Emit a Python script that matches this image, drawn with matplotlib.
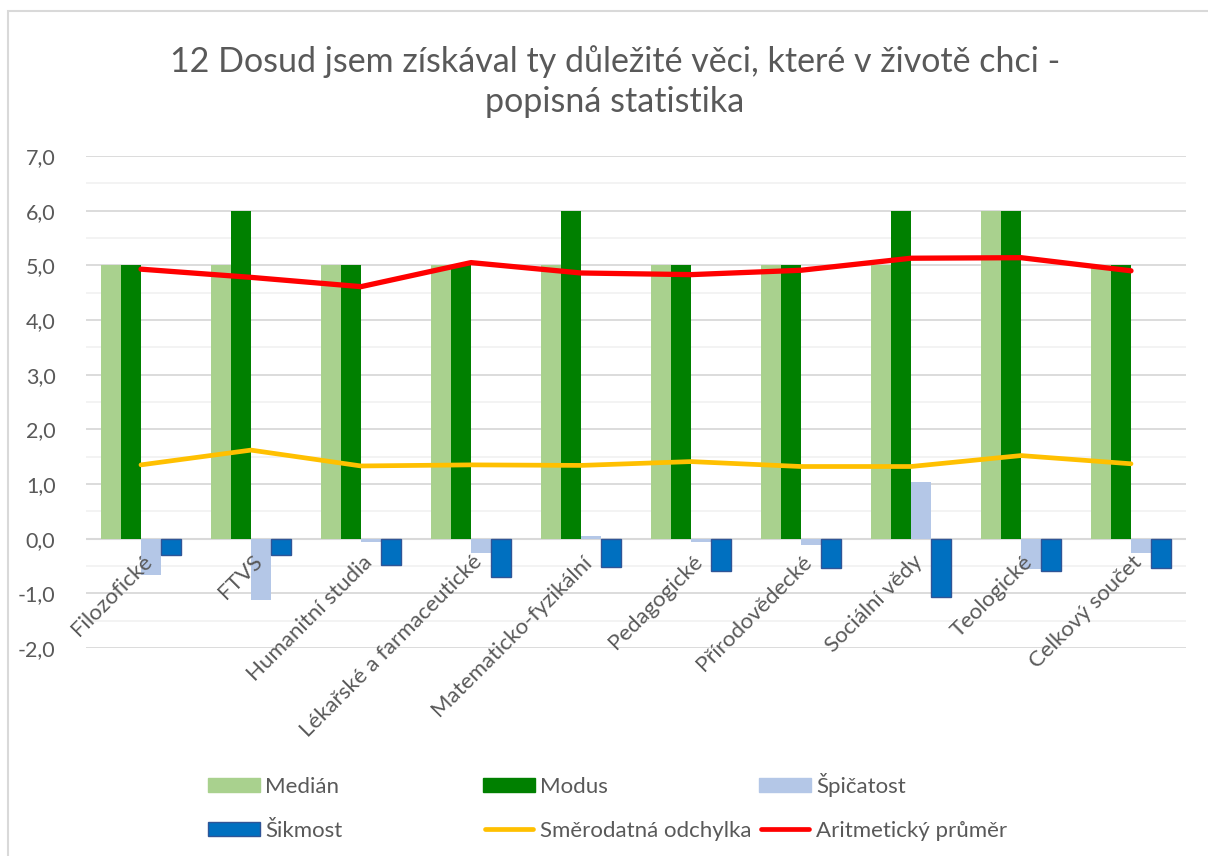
import numpy as np
import matplotlib
matplotlib.use("Agg")
import matplotlib.pyplot as plt
from matplotlib.patches import Rectangle
from matplotlib.lines import Line2D
from matplotlib.ticker import MultipleLocator, FuncFormatter
import matplotlib.transforms as mtransforms

plt.rcParams['font.family'] = ['Lato', 'DejaVu Sans']

categories = ['Filozofické', 'FTVS', 'Humanitní studia', 'Lékařské a farmaceutické',
              'Matematicko-fyzikální', 'Pedagogické', 'Přírodovědecké', 'Sociální vědy',
              'Teologické', 'Celkový součet']
median = [5, 5, 5, 5, 5, 5, 5, 5, 6, 5]
modus = [5, 6, 5, 5, 6, 5, 5, 6, 6, 5]
spicatost = [-0.67, -1.13, -0.07, -0.27, 0.04, -0.06, -0.12, 1.04, -0.55, -0.26]
sikmost = [-0.29, -0.30, -0.49, -0.70, -0.51, -0.59, -0.53, -1.07, -0.59, -0.53]
smerodatna = [1.35, 1.62, 1.33, 1.35, 1.34, 1.41, 1.32, 1.32, 1.52, 1.37]
prumer = [4.93, 4.78, 4.61, 5.05, 4.86, 4.83, 4.91, 5.13, 5.14, 4.90]

text_col = '#595959'
W, H = 1208, 856

fig = plt.figure(figsize=(W / 100, H / 100), dpi=100)
# chart border
fig.patches.append(Rectangle((8 / W, -0.01), 1.2, 1 - 11 / H + 0.01, transform=fig.transFigure,
                             fill=False, edgecolor='#D9D9D9', linewidth=1.5))

ax = fig.add_axes([86 / W, 1 - 648 / H, 1100 / W, (648 - 156) / H])

x = np.arange(len(categories))
w = 0.18
ax.bar(x - 1.5 * w, median, w, color='#A9D18E', zorder=2)
ax.bar(x - 0.5 * w, modus, w, color='#008000', zorder=2)
ax.bar(x + 0.5 * w, spicatost, w, color='#B4C7E7', zorder=2)
ax.bar(x + 1.5 * w, sikmost, w, color='#0070C0', edgecolor='#2F5597', linewidth=1, zorder=2)
ax.plot(x, smerodatna, color='#FFC000', linewidth=3.4, solid_capstyle='round', zorder=3)
ax.plot(x, prumer, color='#FF0000', linewidth=3.8, solid_capstyle='round', zorder=3)

ax.set_xlim(-0.5, len(categories) - 0.5)
ax.set_ylim(-2, 7)
ax.yaxis.set_major_locator(MultipleLocator(1))
ax.yaxis.set_minor_locator(MultipleLocator(0.5))
ax.yaxis.set_major_formatter(FuncFormatter(lambda v, p: f'{v:.1f}'.replace('.', ',')))
ax.grid(True, which='major', axis='y', color='#D9D9D9', linewidth=1.3, zorder=0)
ax.grid(True, which='minor', axis='y', color='#F2F2F2', linewidth=1.3, zorder=0)
ax.axhline(0, color='#D9D9D9', linewidth=1.5, zorder=1)
for s in ax.spines.values():
    s.set_visible(False)
ax.tick_params(axis='y', which='both', length=0, labelsize=15.5, labelcolor=text_col, pad=22)
ax.set_xticks([])

# category labels at the zero line
offset = mtransforms.ScaledTranslation(1 / 100, -13 / 100, fig.dpi_scale_trans)
for xi, name in zip(x, categories):
    ax.text(xi, 0, name, rotation=45, ha='right', va='top', rotation_mode='anchor',
            fontsize=16, color=text_col, transform=ax.transData + offset)

fig.text(615 / W, 1 - 62 / H, '12 Dosud jsem získával ty důležité věci, které v životě chci -',
         ha='center', va='center', fontsize=24.5, color=text_col)
fig.text(615 / W, 1 - 102 / H, 'popisná statistika',
         ha='center', va='center', fontsize=24.5, color=text_col)

# legend drawn as in Excel: three equal columns, two rows
legend_items = [
    ('bar', '#A9D18E', None, 'Medián', 208, 785),
    ('bar', '#008000', None, 'Modus', 483, 785),
    ('bar', '#B4C7E7', None, 'Špičatost', 759, 785),
    ('bar', '#0070C0', '#2F5597', 'Šikmost', 208, 829),
    ('line', '#FFC000', None, 'Směrodatná odchylka', 483, 829),
    ('line', '#FF0000', None, 'Aritmetický průměr', 759, 829),
]
for kind, col, edge, label, px, py in legend_items:
    if kind == 'bar':
        fig.add_artist(Rectangle((px / W, 1 - (py + 7) / H), 52 / W, 14 / H,
                                 transform=fig.transFigure, facecolor=col,
                                 edgecolor=edge if edge else col, linewidth=1))
    else:
        fig.add_artist(Line2D([(px + 2) / W, (px + 50) / W], [1 - py / H, 1 - py / H],
                              transform=fig.transFigure, color=col, linewidth=3.4,
                              solid_capstyle='round'))
    fig.text((px + 57) / W, 1 - (py + 8) / H, label, ha='left', va='baseline',
             fontsize=16, color=text_col)

fig.savefig('out.png', dpi=100, facecolor='white')
